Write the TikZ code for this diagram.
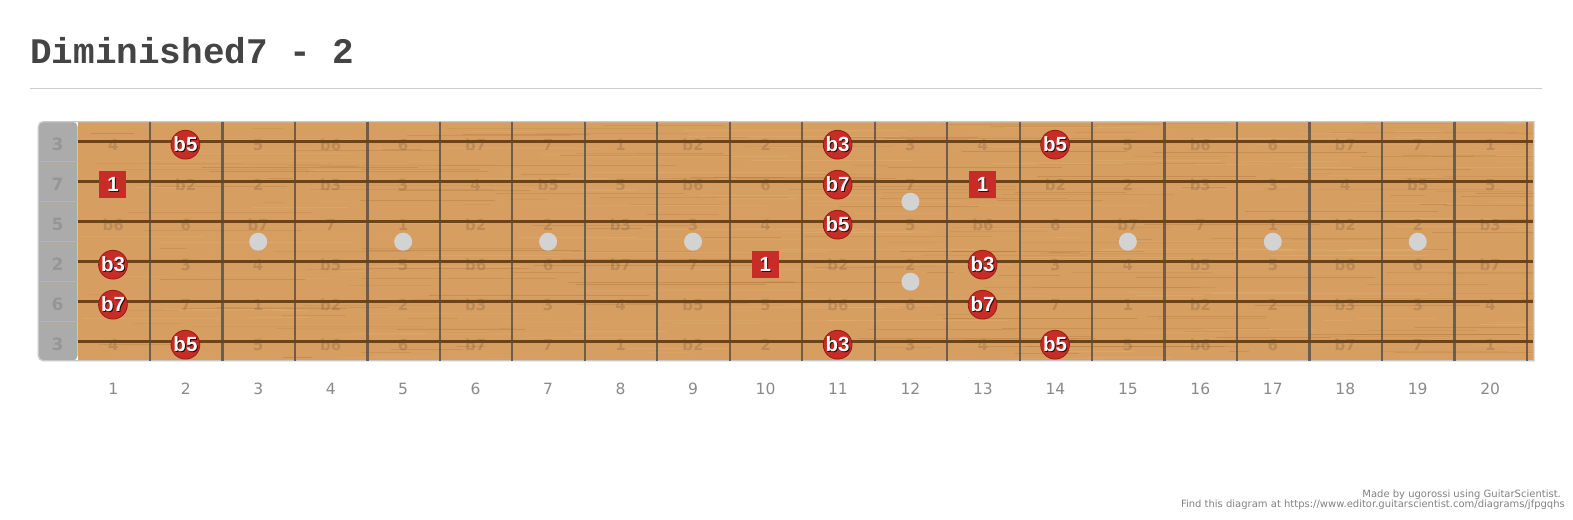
\documentclass[tikz,border=0pt]{standalone}
\usepackage{fontspec}
\setmainfont{DejaVu Sans}
\newfontfamily\titlefont{Liberation Mono}
\newfontfamily\markfont{Liberation Sans}
\definecolor{wood}{RGB}{214,158,96}
\definecolor{grainD}{RGB}{160,95,40}
\definecolor{grainL}{RGB}{235,190,135}
\definecolor{nutgray}{RGB}{171,171,171}
\definecolor{nutlab}{RGB}{150,150,150}
\definecolor{nutline}{RGB}{205,175,145}
\definecolor{strcol}{RGB}{105,68,28}
\definecolor{fretcol}{RGB}{92,82,72}
\definecolor{mkred}{RGB}{200,44,38}
\definecolor{mkedge}{RGB}{150,28,22}
\definecolor{mkshadow}{RGB}{40,10,8}
\definecolor{inlaycol}{RGB}{211,211,211}
\definecolor{titlegray}{RGB}{68,68,68}
\definecolor{rulegray}{RGB}{204,204,204}
\definecolor{numgray}{RGB}{138,138,138}
\definecolor{footgray}{RGB}{130,130,130}
\definecolor{bordergray}{RGB}{200,200,200}
\newcommand\mkl[1]{\rlap{\kern1pt\raisebox{-1pt}{\textcolor{mkshadow}{#1}}}#1}
\newcommand\ivname[1]{\ifcase#1 1\or b2\or 2\or b3\or 3\or 4\or b5\or 5\or b6\or 6\or b7\or 7\fi}
\begin{document}
\begin{tikzpicture}[x=1pt,y=-1pt,
  fretnum/.style={text=numgray,font=\fontsize{15.5}{17}\selectfont,inner sep=0pt},
  nutnum/.style={text=nutlab,font=\bfseries\fontsize{17}{19}\selectfont,inner sep=0pt},
  faint/.style={text=black,text opacity=0.12,font=\bfseries\fontsize{15}{17}\selectfont,inner sep=0pt},
  inlay/.style={circle,fill=inlaycol,minimum size=18pt,inner sep=0pt},
  circmark/.style={circle,fill=mkred,draw=mkedge,line width=0.8pt,minimum size=28pt,inner sep=0pt,text=white,font=\markfont\bfseries\fontsize{20.5}{22}\selectfont},
  sqmark/.style={rectangle,fill=mkred,minimum size=27pt,inner sep=0pt,text=white,font=\markfont\bfseries\fontsize{20.5}{22}\selectfont},
  grainline/.style={line width=0.7pt},
  footer/.style={text=footgray,font=\fontsize{10}{11}\selectfont,inner sep=0pt}]
\useasboundingbox[fill=white] (0,0) rectangle (1573,519);
% title and rule
\node[anchor=base west,font=\titlefont\bfseries\fontsize{36}{40}\selectfont,text=titlegray,inner sep=0pt] (title) at (30,63.3) {Diminished7 - 2};
\draw[rulegray,line width=1pt] (30,88.3) -- (1542,88.3);
% board
\fill[wood] (77.5,121.7) rectangle (1534,360.7);
\begin{scope}
\clip (77.5,121.7) rectangle (1534,360.7);
\pgfmathsetseed{4242}
\foreach \i in {1,...,420}{
  \pgfmathsetmacro\gy{122+239*rnd}
  \pgfmathsetmacro\gx{60+1480*rnd}
  \pgfmathsetmacro\gxe{\gx+20+220*rnd}
  \pgfmathsetmacro\go{0.08+0.2*rnd}
  \pgfmathtruncatemacro\gc{int(2*rnd)}
  \ifnum\gc=0
    \draw[grainline,grainD,opacity=\go] (\gx,\gy) -- (\gxe,\gy);
  \else
    \draw[grainline,grainL,opacity=\go] (\gx,\gy) -- (\gxe,\gy);
  \fi
}
\end{scope}
% nut
\fill[nutgray,rounded corners=5pt] (77.5,121.7) -- (38.3,121.7) -- (38.3,360.7) -- (77.5,360.7) -- cycle;
\foreach \yy in {161.7,201.7,241.7,281.7,321.7}
  \draw[nutline,line width=0.8pt] (38.3,\yy) -- (77.5,\yy);
% border
\draw[bordergray,line width=1.3pt] (1534,121.7) [rounded corners=5pt] -- (38.3,121.7) -- (38.3,360.7) [sharp corners] -- (1534,360.7) -- cycle;
% occupied positions (markers)
\foreach \f/\k in {2/1,11/1,14/1,11/2,11/3,1/4,13/4,1/5,13/5,2/6,11/6,14/6,1/2,13/2,10/4}
  {\expandafter\gdef\csname occ-\k-\f\endcsname{}}
% faint interval labels
\foreach \k/\o in {1/4,2/11,3/7,4/2,5/9,6/4}{
  \foreach \f in {1,...,20}{
    \pgfmathtruncatemacro\iv{mod(\o+\f,12)}
    \ifcsname occ-\k-\f\endcsname\else
      \node[faint] (iv-\k-\f) at ({40.8+72.47*\f},{104.7+40*\k}) {\ivname{\iv}};
    \fi
  }
}
% frets
\foreach \f in {1,...,20}
  \draw[fretcol,opacity=0.85,line width=2.2pt] ({77.53+72.47*\f},121.7) -- ({77.53+72.47*\f},360.7);
% strings
\foreach \k in {1,...,6}
  \draw[strcol,line width=3pt] (77.5,{101.7+40*\k}) -- (1533,{101.7+40*\k});
% nut labels
\foreach \k/\s in {1/3,2/7,3/5,4/2,5/6,6/3}
  \node[nutnum] (nut-\k) at (57.5,{104+40*\k}) {\s};
% inlays
\foreach \f in {3,5,7,9,15,17,19}
  \node[inlay] (dot-\f) at ({40.8+72.47*\f},241.7) {};
\node[inlay] (dot-12a) at ({40.8+72.47*12},201.7) {};
\node[inlay] (dot-12b) at ({40.8+72.47*12},281.7) {};
% markers
\foreach \f/\k/\t in {2/1/b5,11/1/b3,14/1/b5,11/2/b7,11/3/b5,1/4/b3,13/4/b3,1/5/b7,13/5/b7,2/6/b5,11/6/b3,14/6/b5}
  \node[circmark] (m-\k-\f) at ({40.5+72.47*\f},{104.7+40*\k}) {\mkl{\t}};
\foreach \f/\k in {1/2,13/2,10/4}
  \node[sqmark] (r-\k-\f) at ({40.5+72.47*\f},{104.7+40*\k}) {\mkl{1}};
% fret numbers
\foreach \f in {1,...,20}
  \node[fretnum] (fn-\f) at ({40.8+72.47*\f},389) {\f};
% footer
\node[footer,anchor=base east] (made) at (1561,497.5) {Made by ugorossi using GuitarScientist.};
\node[footer,anchor=base east] (find) at (1565,507) {Find this diagram at https://www.editor.guitarscientist.com/diagrams/jfpgqhs};
\end{tikzpicture}
\end{document}
